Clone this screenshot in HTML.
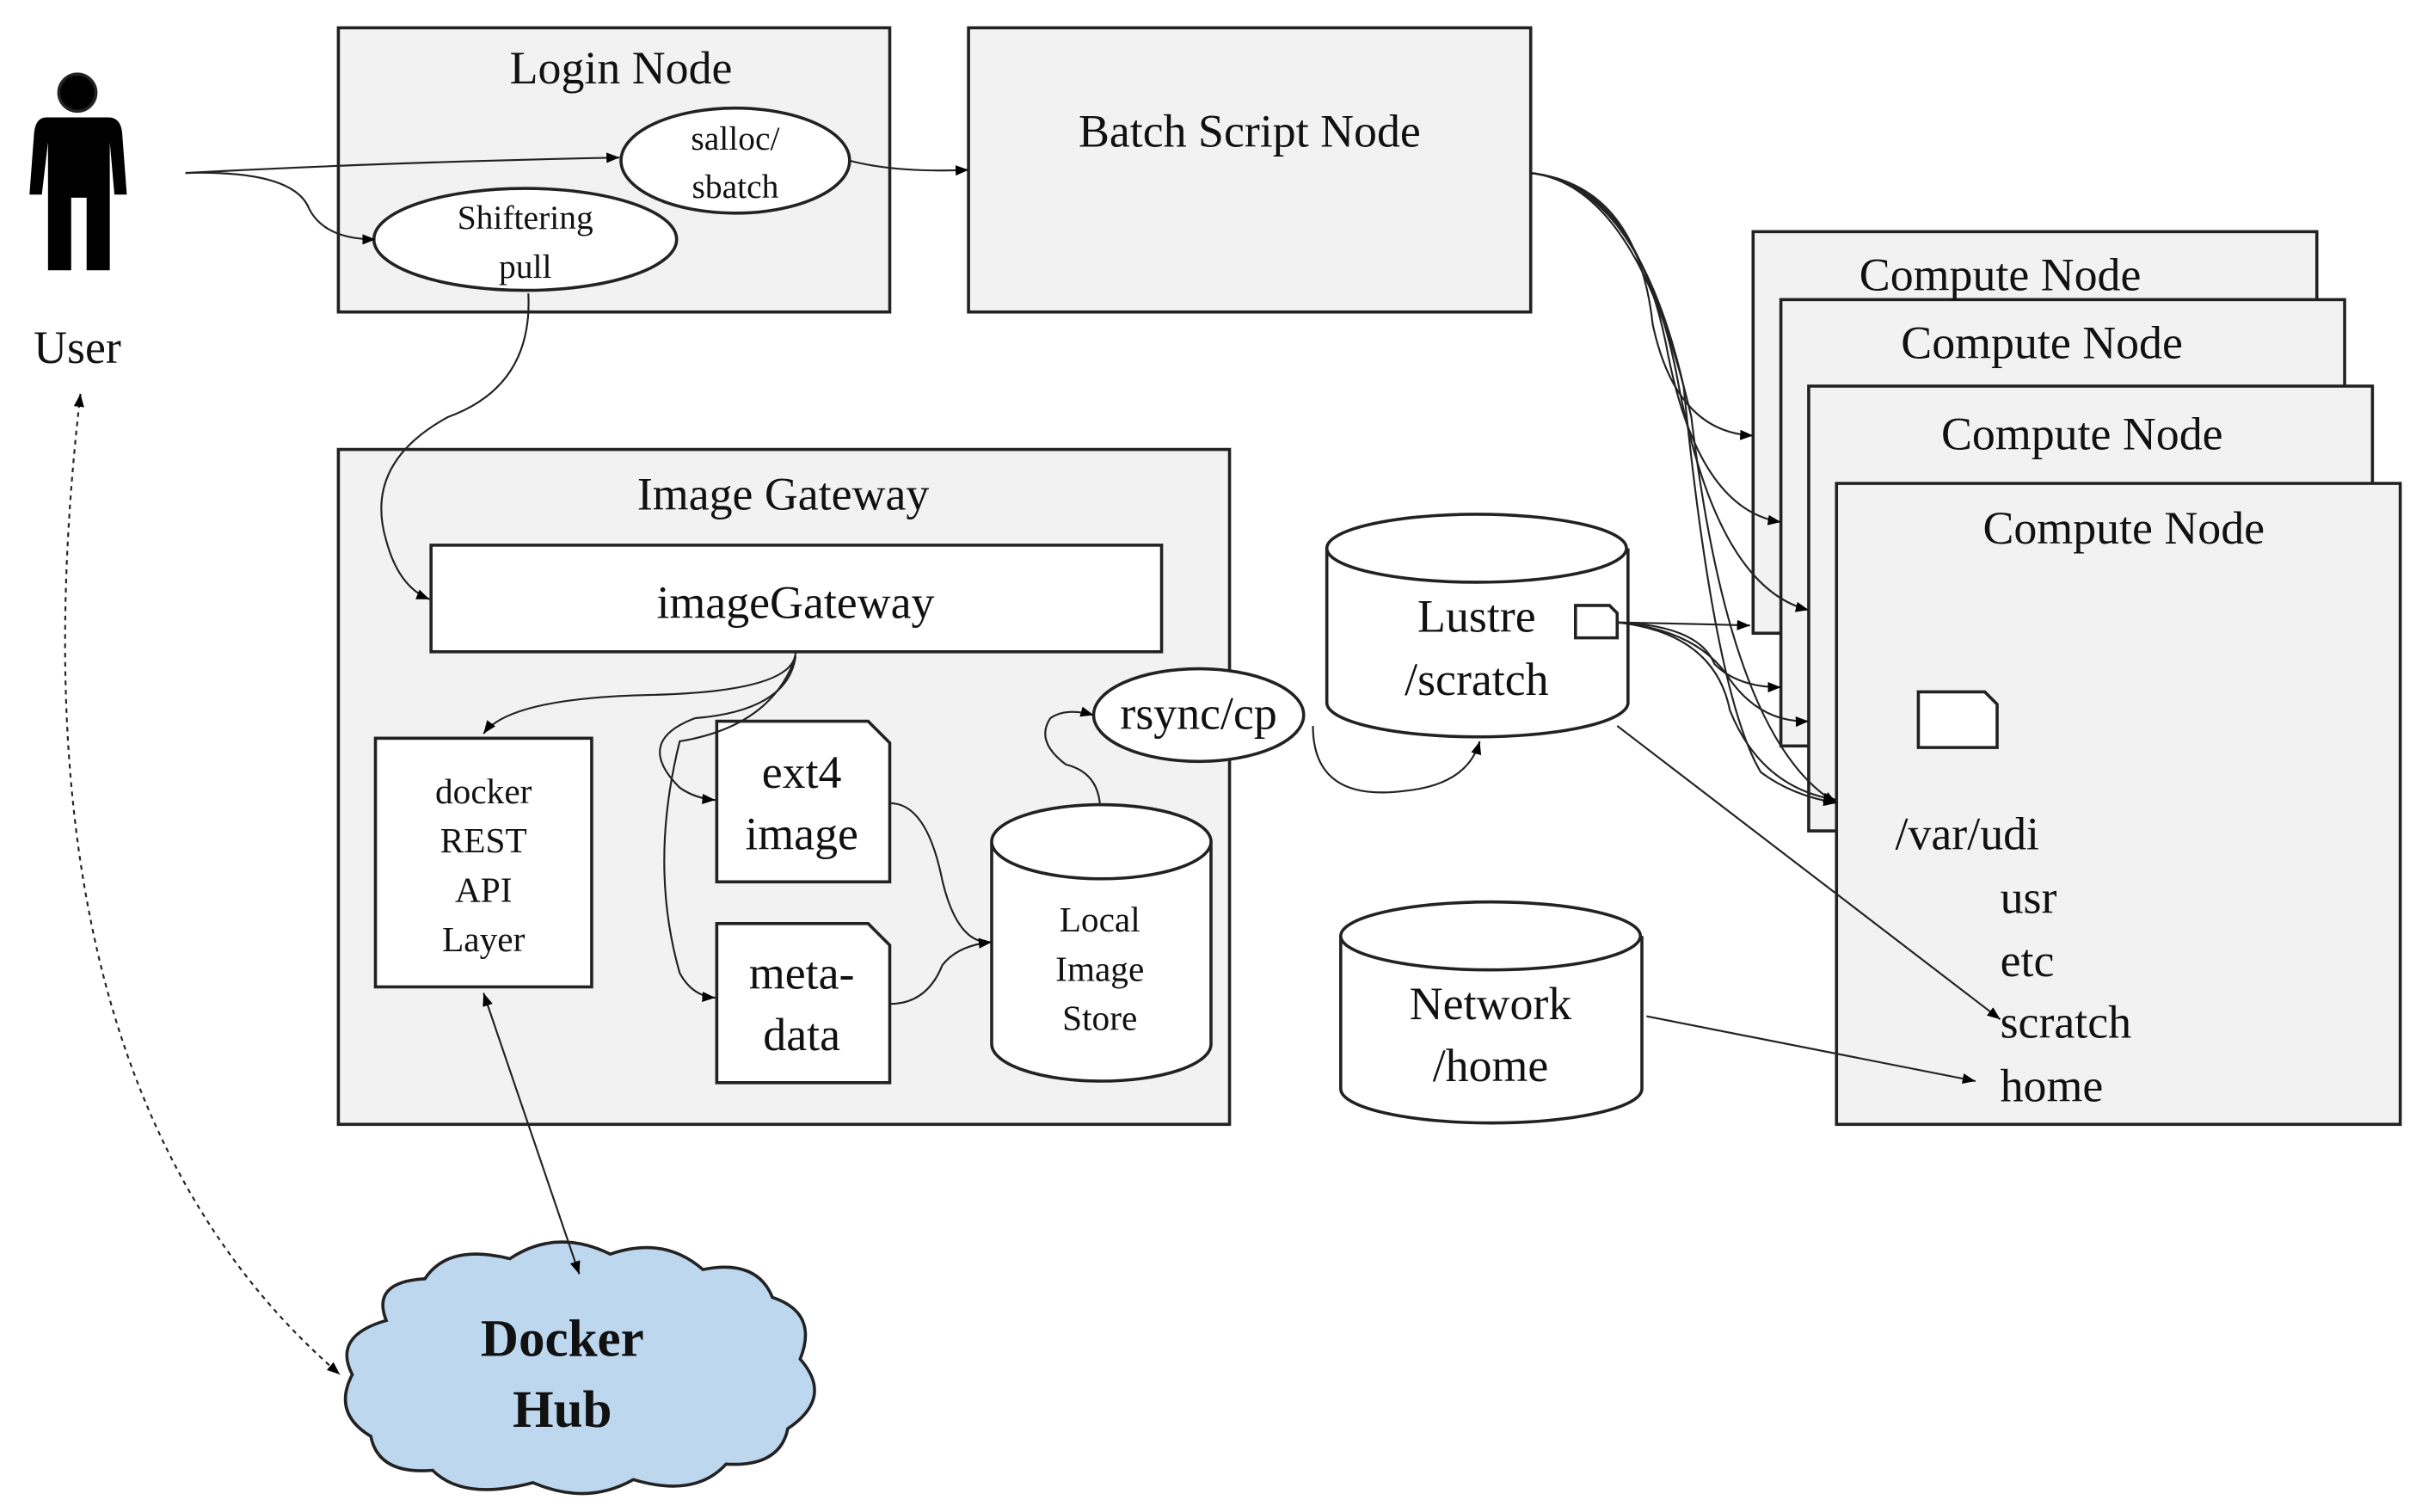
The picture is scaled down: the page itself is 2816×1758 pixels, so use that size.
<!DOCTYPE html>
<html><head><meta charset="utf-8"><style>html,body{margin:0;padding:0;background:#fff}svg{display:block}svg text{font-family:"Liberation Serif","DejaVu Serif",serif}</style></head>
<body>
<svg width="2816" height="1758" viewBox="0 0 1568 979" xmlns="http://www.w3.org/2000/svg">
<defs>
<marker id="a" viewBox="0 0 10 10" refX="10" refY="5" markerWidth="7" markerHeight="7" orient="auto-start-reverse"><path d="M0,1 L10,5 L0,9 z" fill="#000"/></marker>
</defs>
<g stroke="#222" stroke-width="2">
<circle cx="50" cy="60" r="12" fill="#000"/>
<path d="M30,76 H70 Q78,76 79,86 L82,126 H74 L71,92 V175 H56 V128 H46 V175 H31 V92 L27,126 H19 L22,86 Q23,76 30,76 z" fill="#000" stroke="none"/>
<rect x="219" y="18" width="357" height="184" fill="#f2f2f2"/>
<rect x="627" y="18" width="364" height="184" fill="#f2f2f2"/>
<ellipse cx="476" cy="104" rx="74" ry="34" fill="#fff"/>
<ellipse cx="340" cy="155" rx="98" ry="33" fill="#fff"/>
<rect x="1135" y="150" width="365" height="260" fill="#f2f2f2"/>
<rect x="1153" y="194" width="365" height="289" fill="#f2f2f2"/>
<rect x="1171" y="250" width="365" height="288" fill="#f2f2f2"/>
<rect x="1189" y="313" width="365" height="415" fill="#f2f2f2"/>
<path d="M1242,448 H1285 L1293,456 V484 H1242 z" fill="#fff"/>
<rect x="219" y="291" width="577" height="437" fill="#f2f2f2"/>
<rect x="279" y="353" width="473" height="69" fill="#fff"/>
<rect x="243" y="478" width="140" height="161" fill="#fff"/>
<path d="M464,467 H562 L576,481 V571 H464 z" fill="#fff"/>
<path d="M464,598 H562 L576,612 V701 H464 z" fill="#fff"/>
<path d="M642,545 V676 A71,24 0 0 0 784,676 V545" fill="#fff"/>
<ellipse cx="713" cy="545" rx="71" ry="24" fill="#fff"/>
<ellipse cx="776" cy="463" rx="68" ry="30" fill="#fff"/>
<path d="M859,355 V455 A97,22 0 0 0 1054,455 V355" fill="#fff"/>
<ellipse cx="956" cy="355" rx="97" ry="22" fill="#fff"/>
<path d="M1020,392 H1042 L1047,397 V413 H1020 z" fill="#fff"/>
<path d="M868,606 V705 A97,22 0 0 0 1063,705 V606" fill="#fff"/>
<ellipse cx="965" cy="606" rx="97" ry="22" fill="#fff"/>
<path d="M250,855 Q240,830 275,828 Q290,805 330,815 Q360,795 395,812 Q430,800 455,822 Q490,815 500,840 Q530,850 518,880 Q540,905 510,925 Q505,950 470,948 Q450,970 410,958 Q380,975 345,960 Q300,972 280,952 Q245,955 240,930 Q215,915 228,890 Q215,865 250,855 z" fill="#bdd7ee"/>
</g>
<g fill="none" stroke="#222" stroke-width="1.2" marker-end="url(#a)">
<path d="M120,112 Q250,105 401,102"/>
<path d="M120,112 Q190,110 200,135 Q210,155 243,155"/>
<path d="M550,104 Q580,112 627,110"/>
<path d="M342,190 Q345,250 290,270 Q235,300 250,350 Q258,380 278,388"/>
<path d="M515,422 Q515,448 420,450 Q330,452 313,475"/>
<path d="M515,425 Q510,460 450,465 Q410,480 440,510 Q450,517 463,518"/>
<path d="M515,425 Q500,470 440,480 Q420,560 440,630 Q448,645 463,646"/>
<path d="M576,520 Q600,520 610,570 Q620,612 642,610"/>
<path d="M576,650 Q600,650 610,625 Q620,612 642,610"/>
<path d="M712,520 Q710,500 690,495 Q670,480 680,465 Q690,458 708,463"/>
<path d="M850,470 Q850,520 910,512 Q950,508 958,480"/>
<path d="M991,112 Q1060,120 1070,210 Q1085,280 1135,282"/>
<path d="M991,112 Q1060,120 1080,230 Q1100,330 1153,338"/>
<path d="M991,112 Q1060,120 1085,240 Q1110,380 1171,395"/>
<path d="M991,112 Q1060,120 1090,250 Q1110,450 1140,500 Q1160,515 1189,520"/>
<path d="M991,112 Q1060,120 1095,270 Q1120,480 1189,520"/>
<path d="M1047,403 Q1100,404 1133,405"/>
<path d="M1047,403 Q1100,405 1110,430 Q1125,445 1153,445"/>
<path d="M1047,403 Q1100,408 1120,440 Q1140,468 1171,467"/>
<path d="M1047,403 Q1110,410 1120,460 Q1140,510 1189,518"/>
<path d="M1047,470 L1295,660"/>
<path d="M1066,658 L1279,700"/>
<path d="M313,643 L375,825" marker-start="url(#a)"/>
<path d="M52,255 Q0,700 220,890" stroke-dasharray="3,3" marker-start="url(#a)"/>
</g>
<g font-size="30" text-anchor="middle" fill="#111">
<text x="50" y="235">User</text>
<text x="402" y="54">Login Node</text>
<text x="809" y="95">Batch Script Node</text>
<text x="476" y="97" font-size="22">salloc/</text>
<text x="476" y="128" font-size="22">sbatch</text>
<text x="340" y="148" font-size="22">Shiftering</text>
<text x="340" y="180" font-size="22">pull</text>
<text x="1295" y="188">Compute Node</text>
<text x="1322" y="232">Compute Node</text>
<text x="1348" y="291">Compute Node</text>
<text x="1375" y="352">Compute Node</text>
<text x="507" y="330">Image Gateway</text>
<text x="515" y="400">imageGateway</text>
<text x="313" y="520" font-size="23">docker</text>
<text x="313" y="552" font-size="23">REST</text>
<text x="313" y="584" font-size="23">API</text>
<text x="313" y="616" font-size="23">Layer</text>
<text x="519" y="510">ext4</text>
<text x="519" y="550">image</text>
<text x="519" y="640">meta-</text>
<text x="519" y="680">data</text>
<text x="712" y="603" font-size="23">Local</text>
<text x="712" y="635" font-size="23">Image</text>
<text x="712" y="667" font-size="23">Store</text>
<text x="776" y="472">rsync/cp</text>
<text x="956" y="409">Lustre</text>
<text x="956" y="450">/scratch</text>
<text x="965" y="660">Network</text>
<text x="965" y="700">/home</text>
<text x="364" y="878" font-size="34" font-weight="bold">Docker</text>
<text x="364" y="924" font-size="34" font-weight="bold">Hub</text>
</g>
<g font-size="30" fill="#111">
<text x="1227" y="550">/var/udi</text>
<text x="1295" y="591">usr</text>
<text x="1295" y="632">etc</text>
<text x="1295" y="672">scratch</text>
<text x="1295" y="713">home</text>
</g>
</svg>
</body></html>
